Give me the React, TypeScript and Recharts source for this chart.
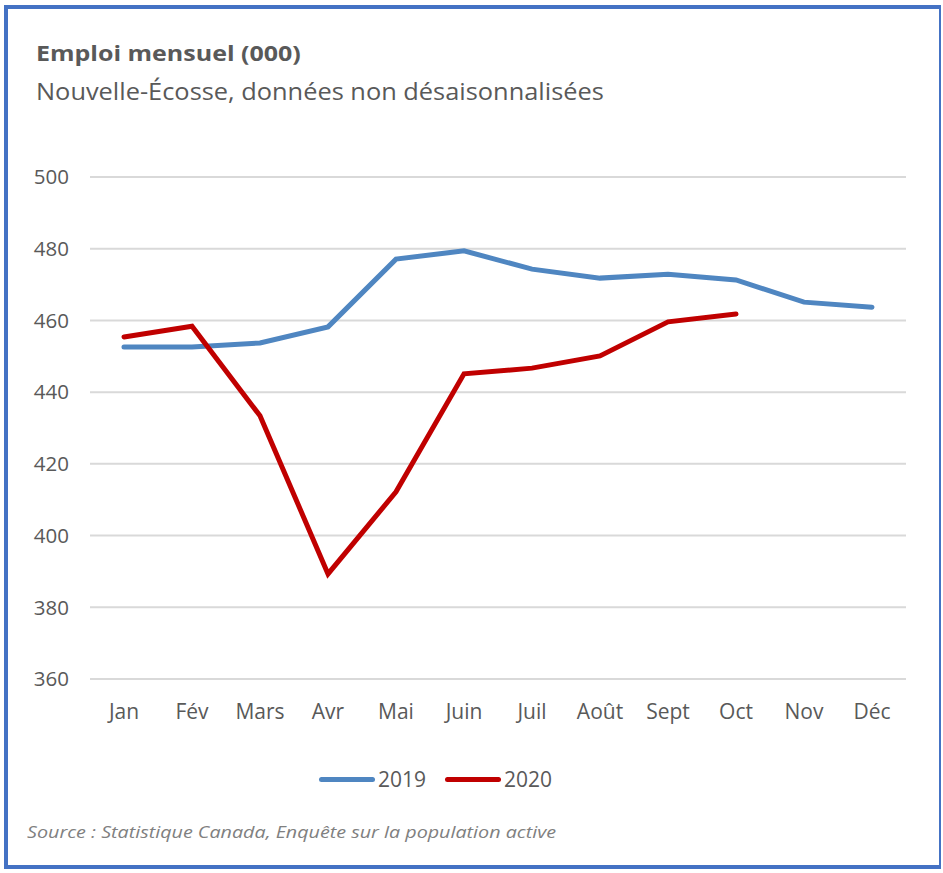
import React from "react";
import { LineChart, Line, XAxis, YAxis, CartesianGrid } from "recharts";

const months = ["Jan", "Fév", "Mars", "Avr", "Mai", "Juin", "Juil", "Août", "Sept", "Oct", "Nov", "Déc"];
const values2019 = [452.6, 452.6, 453.7, 458.2, 477.1, 479.4, 474.3, 471.8, 472.9, 471.3, 465.1, 463.7];
const values2020: (number | null)[] = [455.4, 458.4, 433.4, 389.3, 412.2, 445.1, 446.7, 450.1, 459.6, 461.8, null, null];
const yTicks = [360, 380, 400, 420, 440, 460, 480, 500];
const seriesNames = ["2019", "2020"];

const data = months.map((m, i) => ({ month: m, y2019: values2019[i], y2020: values2020[i] }));

const FONT = "'Open Sans', sans-serif";
const BLUE = "#4f86c1";
const RED = "#c00000";
const TEXT = "#595959";

export default function App() {
  return (
    <div style={{ position: "absolute", left: 0, top: 0, width: 943, height: 873, background: "#fff", fontFamily: FONT }}>
      <LineChart
        width={943}
        height={873}
        data={data}
        margin={{ top: 177, right: 37, bottom: 193, left: 30 }}
      >
        <CartesianGrid horizontal vertical={false} stroke="#d9d9d9" strokeWidth={2} />
        <XAxis
          dataKey="month"
          axisLine={false}
          tickLine={false}
          tickSize={0}
          tickMargin={25}
          padding={{ left: 34, right: 34 }}
          tick={{ fill: TEXT, fontSize: 21, fontFamily: FONT }}
          interval={0}
          height={1}
        />
        <YAxis
          width={60}
          domain={[360, 500]}
          ticks={yTicks}
          axisLine={false}
          tickLine={false}
          tickSize={0}
          tickMargin={21}
          tick={{ fill: TEXT, fontSize: 20.5, fontFamily: FONT }}
        />
        <Line type="linear" dataKey="y2019" name={seriesNames[0]} stroke={BLUE} strokeWidth={5} dot={false} isAnimationActive={false} strokeLinecap="round" />
        <Line type="linear" dataKey="y2020" name={seriesNames[1]} stroke={RED} strokeWidth={5} dot={false} isAnimationActive={false} strokeLinecap="round" />
      </LineChart>
      <div style={{ position: "absolute", left: 319, top: 765, display: "flex", alignItems: "center", fontSize: 21, color: TEXT }}>
        {[BLUE, RED].map((c, i) => (
          <div key={i} style={{ display: "flex", alignItems: "center", marginRight: 19 }}>
            <div style={{ width: 56, height: 5, borderRadius: 3, background: c, marginRight: 3 }} />
            <span>{seriesNames[i]}</span>
          </div>
        ))}
      </div>
      <div style={{ position: "absolute", left: 36, top: 39, fontSize: 21, fontWeight: 700, color: TEXT, whiteSpace: "nowrap", transform: "scaleX(1.19)", transformOrigin: "0 0" }}>Emploi mensuel (000)</div>
      <div style={{ position: "absolute", left: 36, top: 75, fontSize: 23.5, color: TEXT, whiteSpace: "nowrap", transform: "scaleX(1.08)", transformOrigin: "0 0" }}>Nouvelle-Écosse, données non désaisonnalisées</div>
      <div style={{ position: "absolute", left: 27, top: 820, fontSize: 16.5, fontStyle: "italic", color: "#808080", whiteSpace: "nowrap", transform: "scaleX(1.195)", transformOrigin: "0 0" }}>
        Source : Statistique Canada, Enquête sur la population active
      </div>
      <div style={{ position: "absolute", left: 4, top: 5, width: 937, height: 864, boxSizing: "border-box", borderTop: "4px solid #4472c4", borderLeft: "4px solid #4472c4", borderBottom: "4px solid #4472c4", borderRight: "2px solid #4472c4", pointerEvents: "none" }} />
    </div>
  );
}
